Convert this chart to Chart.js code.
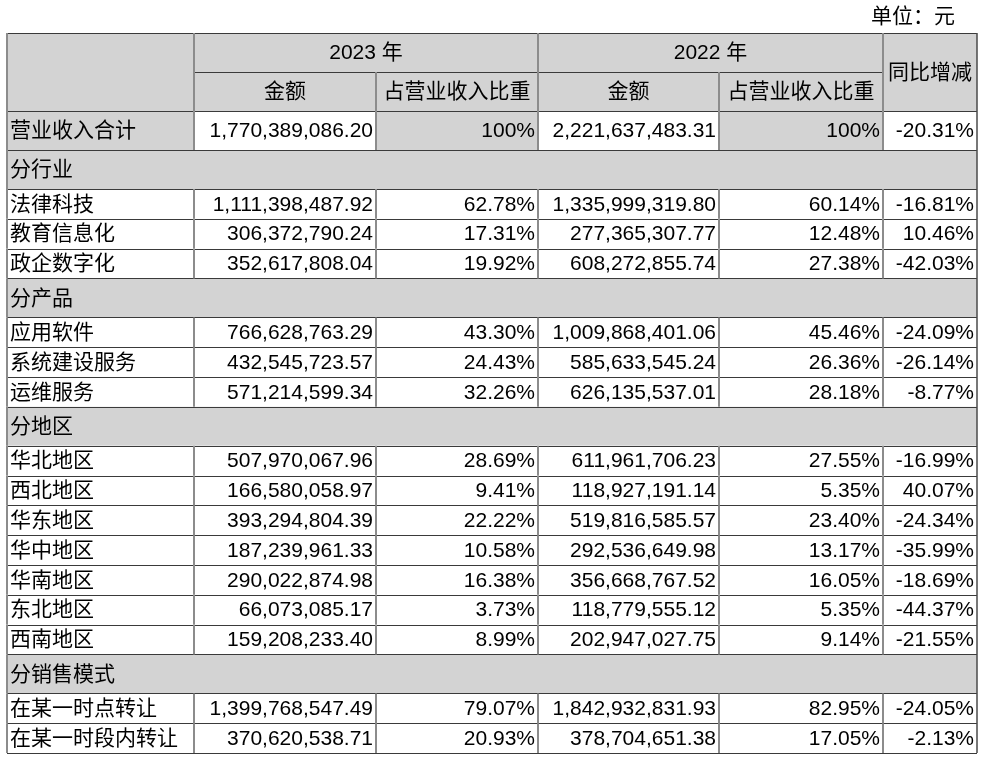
<!DOCTYPE html>
<html>
<head>
<meta charset="utf-8">
<title>营业收入构成</title>
<script src="https://cdn.jsdelivr.net/npm/chart.js@4/dist/chart.umd.min.js"></script>
<style>
body{margin:0;background:#fff;}
canvas{display:block;}
</style>
</head>
<body>
<canvas id="tableChart" width="986" height="760"></canvas>
<script>

const unitLabel="单位：元";
const yearLabels=["2023 年","2022 年"];
const colHeaders=["金额","占营业收入比重","金额","占营业收入比重"];
const changeHeader="同比增减";

const rowLabels=["营业收入合计","分行业","法律科技","教育信息化","政企数字化","分产品","应用软件","系统建设服务","运维服务","分地区","华北地区","西北地区","华东地区","华中地区","华南地区","东北地区","西南地区","分销售模式","在某一时点转让","在某一时段内转让"];
const amount2023=[1770389086.20,null,1111398487.92,306372790.24,352617808.04,null,766628763.29,432545723.57,571214599.34,null,507970067.96,166580058.97,393294804.39,187239961.33,290022874.98,66073085.17,159208233.40,null,1399768547.49,370620538.71];
const share2023=[100,null,62.78,17.31,19.92,null,43.30,24.43,32.26,null,28.69,9.41,22.22,10.58,16.38,3.73,8.99,null,79.07,20.93];
const amount2022=[2221637483.31,null,1335999319.80,277365307.77,608272855.74,null,1009868401.06,585633545.24,626135537.01,null,611961706.23,118927191.14,519816585.57,292536649.98,356668767.52,118779555.12,202947027.75,null,1842932831.93,378704651.38];
const share2022=[100,null,60.14,12.48,27.38,null,45.46,26.36,28.18,null,27.55,5.35,23.40,13.17,16.05,5.35,9.14,null,82.95,17.05];
const yoyChange=[-20.31,null,-16.81,10.46,-42.03,null,-24.09,-26.14,-8.77,null,-16.99,40.07,-24.34,-35.99,-18.69,-44.37,-21.55,null,-24.05,-2.13];

// layout (table units)
const colWidths=[187,182,162,181,164,94];
const headerH=39;
const sectionH=39;
const rowH=29.8;

const colEdges=[0];
colWidths.forEach(w=>colEdges.push(colEdges[colEdges.length-1]+w));
const tableW=colEdges[colEdges.length-1];

const rows=[];
let rowTop=headerH*2;
rowLabels.forEach((label,i)=>{
const section=amount2023[i]===null;
const h=(i===0||section)?sectionH:rowH;
rows.push({top:rowTop,h:h,section:section,total:i===0});
rowTop+=h;
});
const tableH=rowTop;

const moneyFmt=new Intl.NumberFormat("en-US",{minimumFractionDigits:2,maximumFractionDigits:2});
function fmtShare(v){
return v===100?"100%":v.toFixed(2)+"%";
}

const FONT='21px "Liberation Sans", "Noto Sans CJK SC", sans-serif';
const GRAY="#d3d3d3";

const tablePlugin={
id:"tableDraw",
afterDraw(chart){

const ctx=chart.ctx;
const xs=chart.scales.x;
const ys=chart.scales.y;
const X=v=>xs.getPixelForValue(v);
const Y=v=>ys.getPixelForValue(v);

function fillCell(x0,x1,y0,y1,color){
ctx.fillStyle=color;
ctx.fillRect(X(x0),Y(y0),X(x1)-X(x0),Y(y1)-Y(y0));
}

function text(str,x0,x1,y0,y1,align){
ctx.fillStyle="#000";
ctx.font=FONT;
ctx.textBaseline="middle";
ctx.textAlign=align;
let px;
if(align==="left") px=X(x0)+3;
else if(align==="right") px=X(x1)-3;
else px=(X(x0)+X(x1))/2;
ctx.fillText(str,px,(Y(y0)+Y(y1))/2+1);
}

function hLine(x0,x1,y){
ctx.strokeStyle="#3a3a3a";
ctx.lineWidth=1;
const py=Math.round(Y(y))+0.5;
ctx.beginPath();
ctx.moveTo(X(x0),py);
ctx.lineTo(X(x1),py);
ctx.stroke();
}

function vLine(x,y0,y1,color,w){
ctx.strokeStyle=color||"#8c8c8c";
ctx.lineWidth=w||2;
const px=Math.round(X(x));
ctx.beginPath();
ctx.moveTo(px,Y(y0));
ctx.lineTo(px,Y(y1));
ctx.stroke();
}

ctx.save();

// unit label above table
ctx.fillStyle="#000";
ctx.font=FONT;
ctx.textAlign="right";
ctx.textBaseline="middle";
ctx.fillText(unitLabel,X(tableW)-22,Y(-16));

// header
fillCell(0,tableW,0,headerH*2,GRAY);
text(yearLabels[0],colEdges[1],colEdges[3],0,headerH,"center");
text(yearLabels[1],colEdges[3],colEdges[5],0,headerH,"center");
colHeaders.forEach((h,k)=>{
text(h,colEdges[k+1],colEdges[k+2],headerH,headerH*2,"center");
});
text(changeHeader,colEdges[5],colEdges[6],0,headerH*2,"center");

// body
rows.forEach((r,i)=>{
const y0=r.top,y1=r.top+r.h;
if(r.section){
fillCell(0,tableW,y0,y1,GRAY);
text(rowLabels[i],0,tableW,y0,y1,"left");
return;
}
fillCell(0,tableW,y0,y1,"#fff");
if(r.total){
fillCell(colEdges[0],colEdges[1],y0,y1,GRAY);
fillCell(colEdges[2],colEdges[3],y0,y1,GRAY);
fillCell(colEdges[4],colEdges[5],y0,y1,GRAY);
}
const cells=[
moneyFmt.format(amount2023[i]),
fmtShare(share2023[i]),
moneyFmt.format(amount2022[i]),
fmtShare(share2022[i]),
yoyChange[i].toFixed(2)+"%"
];
text(rowLabels[i],colEdges[0],colEdges[1],y0,y1,"left");
cells.forEach((c,k)=>{
text(c,colEdges[k+1],colEdges[k+2],y0,y1,"right");
});
});

// horizontal rules
hLine(0,tableW,0);
hLine(colEdges[1],colEdges[5],headerH);
hLine(0,tableW,headerH*2);
rows.forEach(r=>hLine(0,tableW,r.top+r.h));

// vertical rules
[0,1,3,5].forEach(k=>vLine(colEdges[k],0,headerH*2));
[2,4].forEach(k=>vLine(colEdges[k],headerH,headerH*2));
rows.forEach(r=>{
const y0=r.top,y1=r.top+r.h;
if(r.section){
vLine(0,y0,y1);
}else{
for(let k=0;k<colEdges.length-1;k++) vLine(colEdges[k],y0,y1);
}
});
vLine(tableW,0,tableH,"#4a4a4a",1.5);

ctx.restore();
}
};

new Chart(document.getElementById("tableChart"),{
type:"scatter",
data:{datasets:[{data:[]}]},
options:{
responsive:false,
animation:false,
layout:{padding:{left:7,top:33,right:9,bottom:7}},
plugins:{legend:{display:false},tooltip:{enabled:false}},
scales:{
x:{type:"linear",display:false,min:0,max:tableW},
y:{type:"linear",display:false,min:0,max:tableH,reverse:true}
}
},
plugins:[tablePlugin]
});

</script>
</body>
</html>
